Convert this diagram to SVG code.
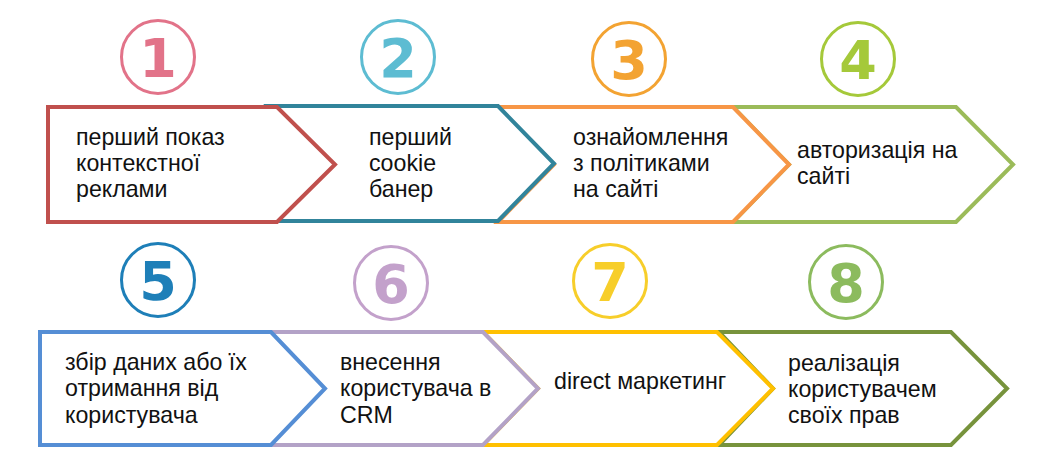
<svg xmlns="http://www.w3.org/2000/svg" width="1042" height="476" viewBox="0 0 1042 476">
<style>
.chev{fill:#fff;stroke-width:4;stroke-linejoin:miter}
.ring{fill:none;stroke-width:3}
.num{font-family:"DejaVu Sans",sans-serif;font-weight:bold;font-size:54px;text-anchor:middle}
.lbl{font-family:"Liberation Sans",Arial,sans-serif;font-size:23.2px;fill:#111}
</style>
<rect width="1042" height="476" fill="#fff"/>
<g id="step4">
<polygon class="chev" stroke="#9BBB59" points="733,107 956,107 1013,164.5 956,222 733,222 789,164.5"/>
<circle class="ring" stroke="#A5C93A" cx="858" cy="59" r="36.5"/>
<text class="num" x="858" y="79" fill="#A5C93A">4</text>
<text class="lbl" x="797" y="158">авторизація на</text>
<text class="lbl" x="797" y="184">сайті</text>
</g>
<g id="step3">
<polygon class="chev" stroke="#F79646" points="498,107 733,107 789,164.5 733,222 498,222 554,164.5"/>
<circle class="ring" stroke="#F3A332" cx="629" cy="59" r="36.5"/>
<text class="num" x="629" y="79" fill="#F3A332">3</text>
<text class="lbl" x="573" y="145">ознайомлення</text>
<text class="lbl" x="573" y="171">з політиками</text>
<text class="lbl" x="573" y="197">на сайті</text>
</g>
<g id="step2">
<polygon class="chev" stroke="#31849B" points="268,106 498,106 554,163.5 498,221 268,221 325,163.5"/>
<circle class="ring" stroke="#5DBCD2" cx="398" cy="57" r="36.5"/>
<text class="num" x="398" y="77" fill="#5DBCD2">2</text>
<text class="lbl" x="369" y="145">перший</text>
<text class="lbl" x="369" y="171">cookie</text>
<text class="lbl" x="369" y="197">банер</text>
</g>
<g id="step1">
<polygon class="chev" stroke="#C0504D" points="48,107 277,107 335,164.5 277,222 48,222"/>
<circle class="ring" stroke="#E27389" cx="158" cy="57" r="36.5"/>
<text class="num" x="158" y="77" fill="#E27389">1</text>
<text class="lbl" x="76" y="145">перший показ</text>
<text class="lbl" x="76" y="171">контекстної</text>
<text class="lbl" x="76" y="197">реклами</text>
</g>
<g id="step8">
<polygon class="chev" stroke="#77933C" points="719,332 951,332 1007,388.5 951,445 719,445 773,388.5"/>
<circle class="ring" stroke="#8CBB5E" cx="846" cy="282" r="36.5"/>
<text class="num" x="846" y="302" fill="#8CBB5E">8</text>
<text class="lbl" x="788" y="371">реалізація</text>
<text class="lbl" x="788" y="397">користувачем</text>
<text class="lbl" x="788" y="423">своїх прав</text>
</g>
<g id="step7">
<polygon class="chev" stroke="#FFC000" points="483,332 717,332 773,388.5 717,445 483,445 538,388.5"/>
<circle class="ring" stroke="#F7CE2A" cx="610" cy="281" r="36.5"/>
<text class="num" x="610" y="301" fill="#F7CE2A">7</text>
<text class="lbl" x="554" y="389">direct маркетинг</text>
</g>
<g id="step6">
<polygon class="chev" stroke="#B3A2C7" points="270,332 483,332 538,388.5 483,445 270,445 324,388.5"/>
<circle class="ring" stroke="#C3A1CB" cx="391" cy="283" r="36.5"/>
<text class="num" x="391" y="303" fill="#C3A1CB">6</text>
<text class="lbl" x="340" y="370">внесення</text>
<text class="lbl" x="340" y="396">користувача в</text>
<text class="lbl" x="340" y="423">CRM</text>
</g>
<g id="step5">
<polygon class="chev" stroke="#558ED5" points="40,332 271,332 325,388.5 271,445 40,445"/>
<circle class="ring" stroke="#1E7FB8" cx="158" cy="280" r="36.5"/>
<text class="num" x="158" y="300" fill="#1E7FB8">5</text>
<text class="lbl" x="65" y="370">збір даних або їх</text>
<text class="lbl" x="65" y="396">отримання від</text>
<text class="lbl" x="65" y="423">користувача</text>
</g>
</svg>
